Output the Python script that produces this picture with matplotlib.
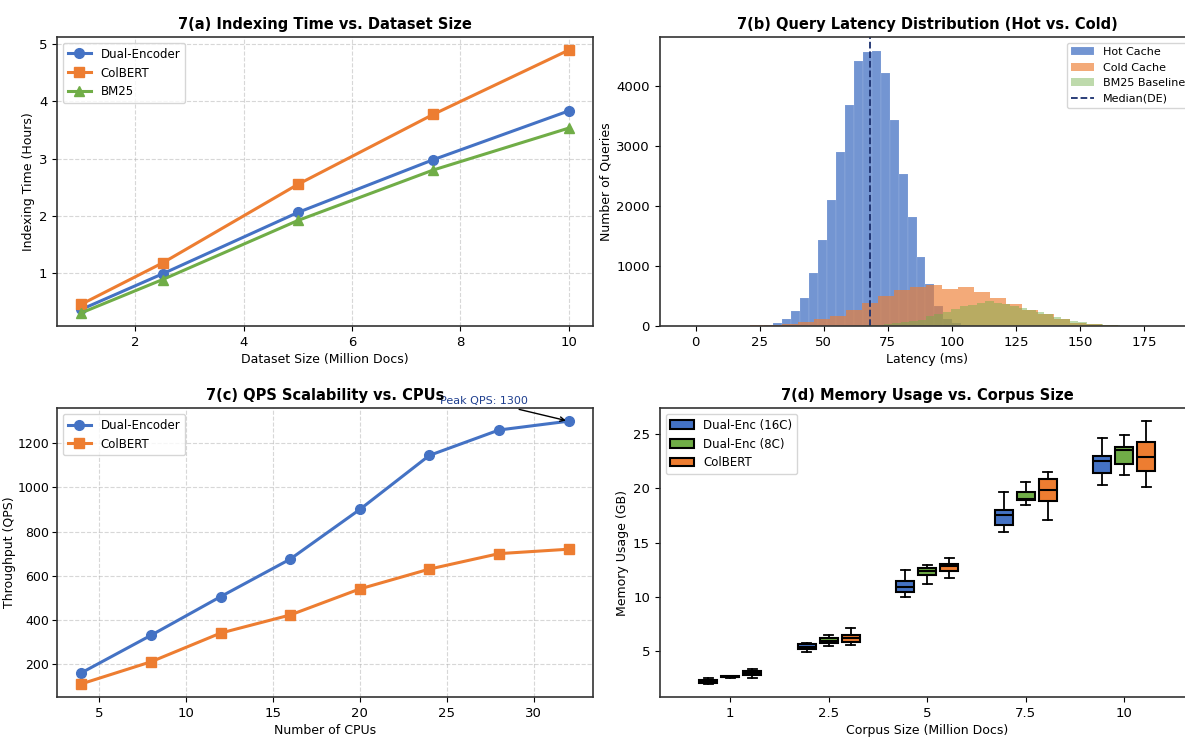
import matplotlib
matplotlib.use("Agg")
import matplotlib.pyplot as plt
from matplotlib.patches import Patch
import numpy as np

# 7(a) indexing time
dataset_sizes = [1, 2.5, 5, 7.5, 10]
idx_dual = [0.37, 0.99, 2.06, 2.98, 3.83]
idx_colbert = [0.46, 1.18, 2.55, 3.77, 4.89]
idx_bm25 = [0.31, 0.89, 1.92, 2.80, 3.53]

# 7(b) latency histograms (bin edges + counts)
hot_edges = [23.2, 26.7, 30.2, 33.7, 37.2, 40.7, 44.2, 47.7, 51.2, 54.7, 58.2, 61.7, 65.2,
             68.7, 72.2, 75.7, 79.2, 82.7, 86.2, 89.7, 93.2, 96.7, 100.2, 103.7, 107.2, 110.7]
hot_counts = [3, 10, 45, 110, 255, 465, 880, 1430, 2090, 2900, 3670, 4410, 4555,
              4580, 4210, 3430, 2530, 1820, 1150, 695, 330, 110, 45, 15, 5]
cold_edges = [14.75, 21, 27.25, 33.5, 39.75, 46, 52.25, 58.5, 64.75, 71, 77.25, 83.5, 89.75,
              96, 102.25, 108.5, 114.75, 121, 127.25, 133.5, 139.75, 146, 152.25, 158.5, 164.75]
cold_counts = [3, 10, 20, 33, 72, 122, 172, 267, 378, 505, 600, 645, 680,
               617, 655, 561, 472, 361, 267, 194, 111, 50, 25, 10]
bm25_edges = [63.5, 66.8, 70.1, 73.4, 76.7, 80.0, 83.3, 86.6, 89.9, 93.2, 96.5, 99.8, 103.1,
              106.4, 109.7, 113.0, 116.3, 119.6, 122.9, 126.2, 129.5, 132.8, 136.1, 139.4,
              142.7, 146.0, 149.3, 152.6, 155.9, 159.2, 162.5, 165.8]
bm25_counts = [5, 10, 20, 30, 45, 60, 75, 95, 172, 200, 239, 278, 340,
               350, 378, 417, 390, 360, 333, 300, 265, 230, 194, 150,
               117, 80, 61, 40, 30, 20, 10]
median_de = 68

# 7(c) QPS
cpus = [4, 8, 12, 16, 20, 24, 28, 32]
qps_dual = [160, 330, 505, 675, 900, 1145, 1260, 1300]
qps_colbert = [110, 210, 340, 422, 540, 630, 700, 720]

# 7(d) memory usage box stats
corpus_labels = ["1", "2.5", "5", "7.5", "10"]
de16_med = [2.2, 5.37, 10.85, 17.5, 22.5]
de16_q1 = [2.02, 5.15, 10.45, 16.65, 21.45]
de16_q3 = [2.32, 5.6, 11.45, 18.0, 23.0]
de16_lo = [1.95, 4.85, 10.0, 16.0, 20.3]
de16_hi = [2.5, 5.75, 12.45, 19.7, 24.65]
de8_med = [2.62, 5.9, 12.35, 19.05, 23.55]
de8_q1 = [2.55, 5.7, 12.0, 18.9, 22.25]
de8_q3 = [2.68, 6.15, 12.6, 19.65, 23.8]
de8_lo = [2.5, 5.4, 11.2, 18.5, 21.2]
de8_hi = [2.72, 6.45, 12.9, 20.55, 24.95]
col_med = [2.92, 6.15, 12.8, 19.85, 22.85]
col_q1 = [2.75, 5.85, 12.4, 18.8, 21.6]
col_q3 = [3.1, 6.45, 13.05, 20.85, 24.25]
col_lo = [2.5, 5.5, 11.7, 17.05, 20.15]
col_hi = [3.32, 7.1, 13.6, 21.5, 26.2]

BLUE = "#4472C4"
ORANGE = "#ED7D31"
GREEN = "#70AD47"

plt.rcParams["font.family"] = ["DejaVu Sans"]
plt.rcParams["xtick.labelsize"] = 9.5
plt.rcParams["ytick.labelsize"] = 9.5
plt.rcParams["axes.labelsize"] = 9
plt.rcParams["axes.labelpad"] = 3
plt.rcParams["axes.titlesize"] = 10.5
plt.rcParams["axes.titleweight"] = "bold"
plt.rcParams["legend.fontsize"] = 8.5
plt.rcParams["axes.edgecolor"] = "#333333"
plt.rcParams["axes.linewidth"] = 1.2

fig = plt.figure(figsize=(11.85, 7.4), dpi=100)
ax_a = fig.add_axes([0.0481, 0.5595, 0.4523, 0.3905])
ax_b = fig.add_axes([0.5567, 0.5595, 0.4516, 0.3905])
ax_c = fig.add_axes([0.0481, 0.0581, 0.4523, 0.3905])
ax_d = fig.add_axes([0.5567, 0.0581, 0.4516, 0.3905])

# ---- (a)
ax_a.plot(dataset_sizes, idx_dual, marker="o", color=BLUE, lw=2.2, ms=7, label="Dual-Encoder")
ax_a.plot(dataset_sizes, idx_colbert, marker="s", color=ORANGE, lw=2.2, ms=7, label="ColBERT")
ax_a.plot(dataset_sizes, idx_bm25, marker="^", color=GREEN, lw=2.2, ms=7, label="BM25")
ax_a.set_title("7(a) Indexing Time vs. Dataset Size")
ax_a.set_xlabel("Dataset Size (Million Docs)")
ax_a.set_ylabel("Indexing Time (Hours)")
ax_a.grid(True, linestyle="--", alpha=0.5)
ax_a.legend(loc="upper left")

# ---- (b)
ax_b.hist(hot_edges[:-1], bins=hot_edges, weights=hot_counts, color=BLUE, alpha=0.75,
          edgecolor="white", linewidth=0.1, label="Hot Cache")
ax_b.hist(cold_edges[:-1], bins=cold_edges, weights=cold_counts, color=ORANGE, alpha=0.65,
          label="Cold Cache")
ax_b.hist(bm25_edges[:-1], bins=bm25_edges, weights=bm25_counts, color=GREEN, alpha=0.45,
          label="BM25 Baseline")
ax_b.axvline(median_de, color="#1a2f6e", linestyle="--", lw=1.3, label="Median(DE)")
ax_b.set_xlim(-14.1, 194.9)
ax_b.set_title("7(b) Query Latency Distribution (Hot vs. Cold)")
ax_b.set_xlabel("Latency (ms)")
ax_b.set_ylabel("Number of Queries")
ax_b.legend(loc="upper right", fontsize=8)

# ---- (c)
ax_c.plot(cpus, qps_dual, marker="o", color=BLUE, lw=2.2, ms=7, label="Dual-Encoder")
ax_c.plot(cpus, qps_colbert, marker="s", color=ORANGE, lw=2.2, ms=7, label="ColBERT")
ax_c.annotate(f"Peak QPS: {qps_dual[-1]}", xy=(cpus[-1], qps_dual[-1]), xytext=(24.6, 1378),
              fontsize=8, color="#1f3f8f",
              arrowprops=dict(arrowstyle="->", color="black", lw=1))
ax_c.set_title("7(c) QPS Scalability vs. CPUs")
ax_c.set_xlabel("Number of CPUs")
ax_c.set_ylabel("Throughput (QPS)", labelpad=1)
ax_c.tick_params(axis="y", labelsize=9, pad=2)
ax_c.grid(True, linestyle="--", alpha=0.5)
ax_c.legend(loc="upper left")

# ---- (d)
groups = [
    (de16_med, de16_q1, de16_q3, de16_lo, de16_hi, BLUE, "Dual-Enc (16C)"),
    (de8_med, de8_q1, de8_q3, de8_lo, de8_hi, GREEN, "Dual-Enc (8C)"),
    (col_med, col_q1, col_q3, col_lo, col_hi, ORANGE, "ColBERT"),
]
base = np.arange(1, len(corpus_labels) + 1)
offsets = [-0.224, 0.0, 0.224]
handles = []
for (med, q1, q3, lo, hi, color, name), off in zip(groups, offsets):
    stats = [dict(med=m, q1=a, q3=b, whislo=l, whishi=h, fliers=[])
             for m, a, b, l, h in zip(med, q1, q3, lo, hi)]
    ax_d.bxp(stats, positions=base + off, widths=0.185, patch_artist=True, showfliers=False,
             boxprops=dict(facecolor=color, edgecolor="black", linewidth=1.5),
             medianprops=dict(color="black", linewidth=1.5),
             whiskerprops=dict(color="black", linewidth=1.3),
             capprops=dict(color="black", linewidth=1.3))
    handles.append(Patch(facecolor=color, edgecolor="black", linewidth=1.5, label=name))
ax_d.set_xticks(base)
ax_d.set_xticklabels(corpus_labels)
ax_d.set_xlim(0.284, 5.716)
ax_d.set_title("7(d) Memory Usage vs. Corpus Size")
ax_d.set_xlabel("Corpus Size (Million Docs)")
ax_d.set_ylabel("Memory Usage (GB)")
ax_d.legend(handles=handles, loc="upper left")

fig.savefig("out.png", dpi=100)
